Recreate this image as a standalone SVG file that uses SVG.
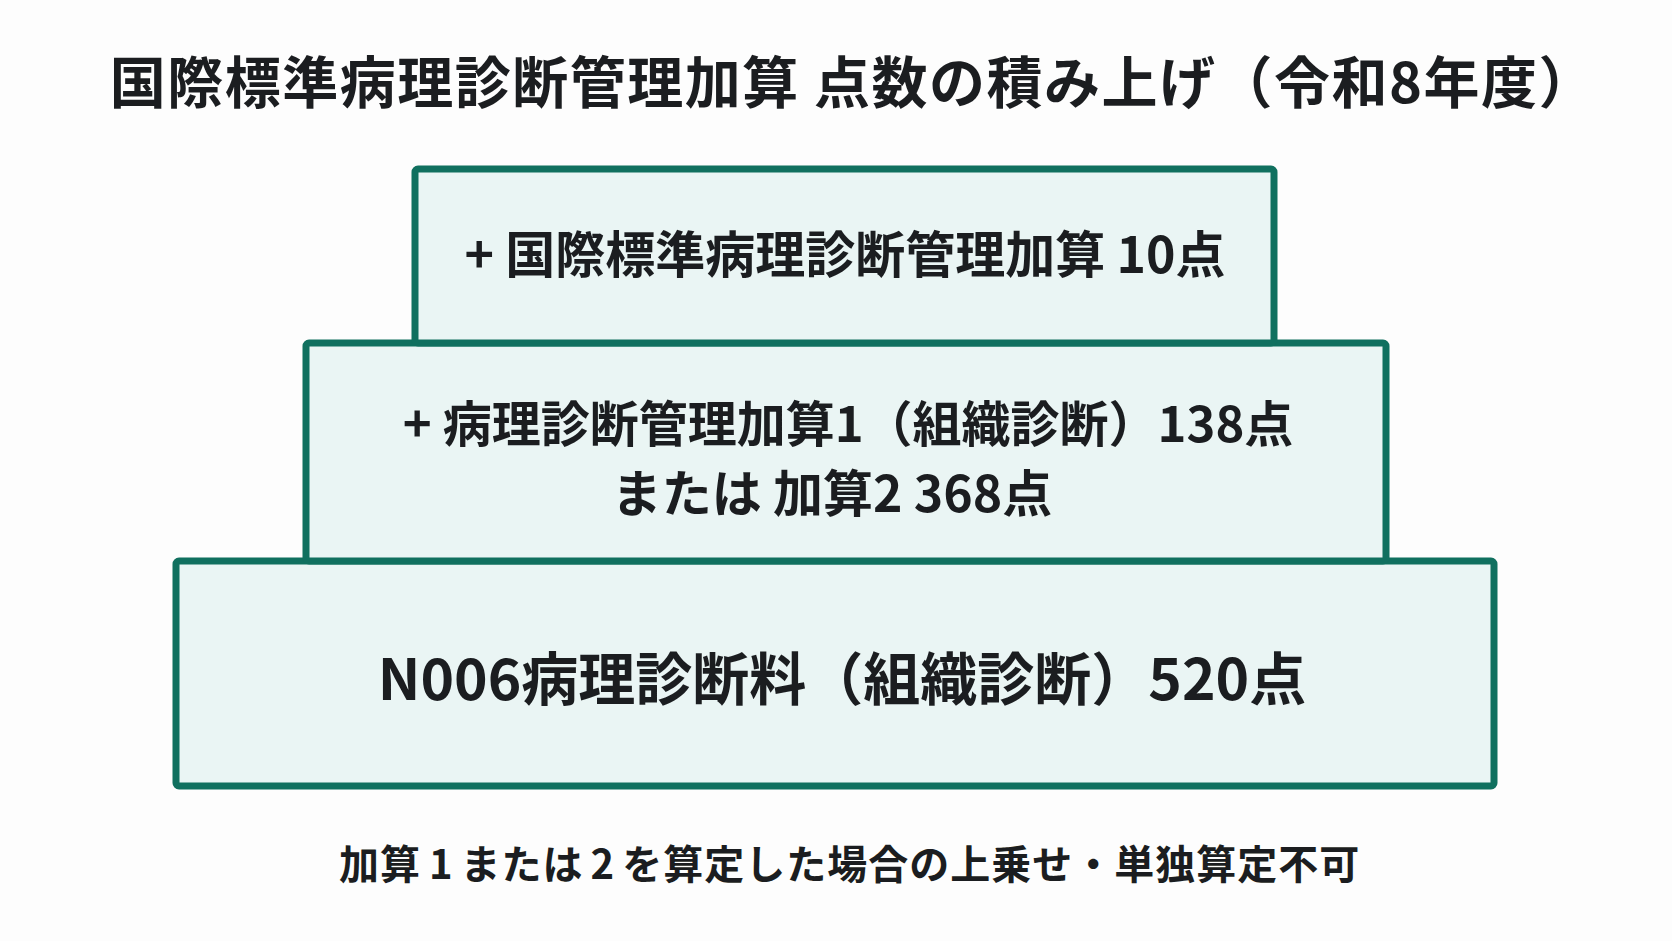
<svg xmlns="http://www.w3.org/2000/svg" width="1672" height="941" viewBox="0 0 1672 941">
<style>
.box{fill:#eaf5f4;stroke:#10705f;stroke-width:7}
.t{font-family:"Noto Sans CJK JP","Noto Sans",sans-serif;font-weight:700;fill:#1b1d20}
</style>
<rect x="0" y="0" width="1672" height="941" fill="#fdfdfd"/>
<text class="t" x="853" y="103" font-size="56" letter-spacing="1.5" text-anchor="middle">国際標準病理診断管理加算 点数の積み上げ（令和8年度）</text>
<g id="connectors"></g>
<g id="base">
<rect class="box" x="176" y="561" width="1318" height="225" rx="3"/>
<text class="t" x="842" y="700" font-size="57" text-anchor="middle">N006病理診断料（組織診断）520点</text>
</g>
<g id="mid">
<rect class="box" x="306" y="343" width="1080" height="218" rx="3"/>
<text class="t" x="848" y="442" font-size="49" text-anchor="middle">+ 病理診断管理加算1（組織診断）138点</text>
<text class="t" x="832" y="512" font-size="50" text-anchor="middle">または 加算2 368点</text>
</g>
<g id="top">
<rect class="box" x="415" y="169" width="859" height="174" rx="3"/>
<text class="t" x="845" y="273" font-size="50" text-anchor="middle">+ 国際標準病理診断管理加算 10点</text>
</g>
<g id="note">
<text class="t" x="339" y="879" font-size="40" letter-spacing="1" font-weight="600">加算<tspan dx="8">1</tspan><tspan dx="7">または</tspan><tspan dx="7">2</tspan><tspan dx="7">を算定した場合の上乗せ・単独算定不可</tspan></text>
</g>
</svg>
